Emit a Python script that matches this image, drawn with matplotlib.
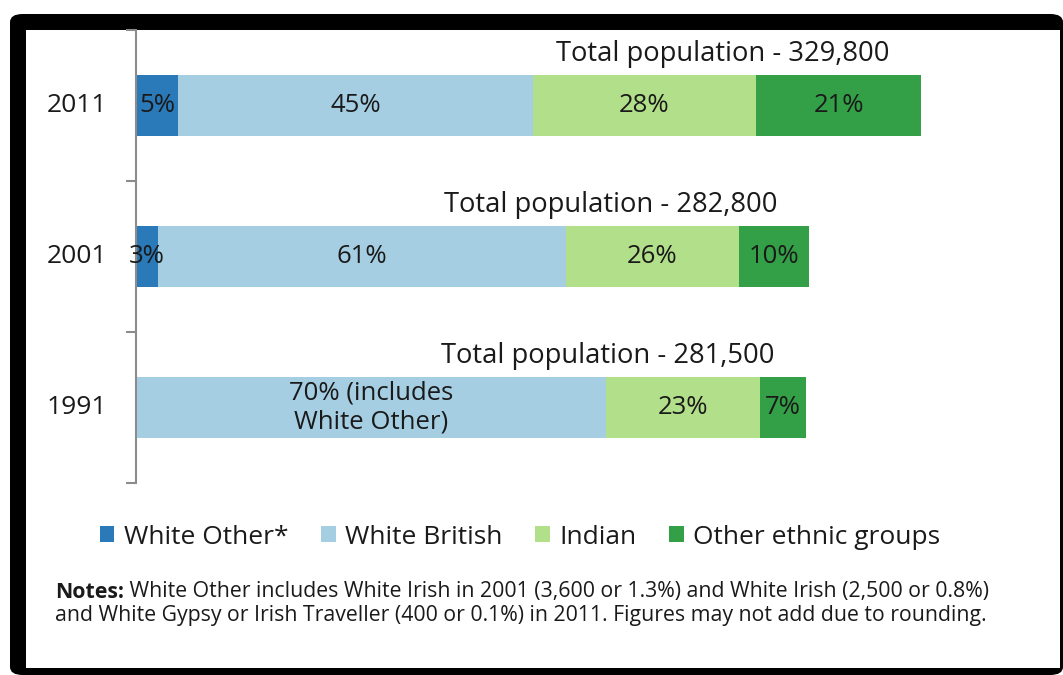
import numpy as np
import matplotlib
matplotlib.use('Agg')
import matplotlib.pyplot as plt
from matplotlib.patches import FancyBboxPatch, Rectangle
import matplotlib.transforms as mtransforms

plt.rcParams['font.family'] = ['Open Sans', 'DejaVu Sans']

# Data
years = ['2011', '2001', '1991']
totals = [329.8, 282.8, 281.5]  # thousands
total_labels = ['329,800', '282,800', '281,500']
groups = ['White Other*', 'White British', 'Indian', 'Other ethnic groups']
colors = ['#2a7ab9', '#a6cee3', '#b2df8a', '#33a047']

# shares (%)
white_other = [5.4, 3.3, 0.0]
white_british = [45.2, 60.6, 70.1]
indian = [28.3, 25.6, 23.0]
other = [21.1, 10.5, 6.9]

seg_labels = [
    ['5%', '45%', '28%', '21%'],
    ['3%', '61%', '26%', '10%'],
    ['', '70% (includes\nWhite Other)', '23%', '7%'],
]

W, H = 1063, 675
fig = plt.figure(figsize=(W / 100, H / 100), dpi=100)
fig.patch.set_facecolor('white')


def fx(px):
    return px / W


def fy(py):
    return 1 - py / H


# black frame around the chart
frame = FancyBboxPatch((fx(10), fy(675)), fx(1063) - fx(10), fy(14) - fy(675),
                       boxstyle='round,pad=0,rounding_size=0.012',
                       transform=fig.transFigure, facecolor='black', edgecolor='none', zorder=-2)
fig.patches.append(frame)
inner = Rectangle((fx(26), fy(668)), fx(1060) - fx(26), fy(30) - fy(668),
                  transform=fig.transFigure, facecolor='white', edgecolor='none', zorder=-1)
fig.patches.append(inner)

ax = fig.add_axes([fx(136), fy(483), fx(1060) - fx(136), fy(30) - fy(483)])
ax.set_facecolor('none')

shares = np.array([white_other, white_british, indian, other])
y = np.arange(len(years))[::-1]
left = np.zeros(len(years))
for i, g in enumerate(groups):
    widths = shares[i] / 100 * np.array(totals)
    ax.barh(y, widths, left=left, height=0.40, color=colors[i], label=g, zorder=2)
    for j in range(len(years)):
        lab = seg_labels[j][i]
        if lab:
            ax.text(left[j] + widths[j] / 2, y[j], lab, ha='center', va='center',
                    fontsize=18.5, color='#1a1a1a', linespacing=1.25, zorder=3)
    left = left + widths

ylab_tr = mtransforms.offset_copy(
    mtransforms.blended_transform_factory(ax.transAxes, ax.transData), fig=fig, x=-29, y=0, units='dots')
for j in range(len(years)):
    ax.text(totals[j] - 13.5, y[j] + 0.34, 'Total population - ' + total_labels[j],
            ha='right', va='center', fontsize=19.7, color='#1a1a1a')
    ax.text(0, y[j], years[j], transform=ylab_tr,
            ha='right', va='center', fontsize=19, color='#1a1a1a')

ax.set_xlim(0, 388)
ax.set_ylim(-0.5, 2.5)
for s in ['top', 'right', 'bottom']:
    ax.spines[s].set_visible(False)
ax.spines['left'].set_color('#8c8c8c')
ax.spines['left'].set_linewidth(1.5)
ax.set_xticks([])
ax.set_yticks([-0.5, 0.5, 1.5, 2.5])
ax.set_yticklabels([])
ax.tick_params(axis='y', length=7, width=1.5, color='#8c8c8c', direction='out')

handles, labels = ax.get_legend_handles_labels()
fig.legend(handles, labels, loc='center', bbox_to_anchor=(fx(520), fy(537)), ncol=4,
           frameon=False, fontsize=19, handlelength=0.55, handleheight=0.55,
           handletextpad=0.35, columnspacing=1.25, labelcolor='#1a1a1a')

notes = fig.text(fx(55), fy(592), 'Notes:', fontweight='bold', fontsize=15.3,
                 color='#1a1a1a', va='center', ha='left')
plt.annotate(' White Other includes White Irish in 2001 (3,600 or 1.3%) and White Irish (2,500 or 0.8%)',
             xy=(1, 0.5), xycoords=notes, va='center', ha='left', fontsize=15.3, color='#1a1a1a',
             annotation_clip=False)
fig.text(fx(55), fy(616), 'and White Gypsy or Irish Traveller (400 or 0.1%) in 2011. Figures may not add due to rounding.',
         fontsize=15.3, color='#1a1a1a', va='center', ha='left')

fig.savefig('out.png', dpi=100)
